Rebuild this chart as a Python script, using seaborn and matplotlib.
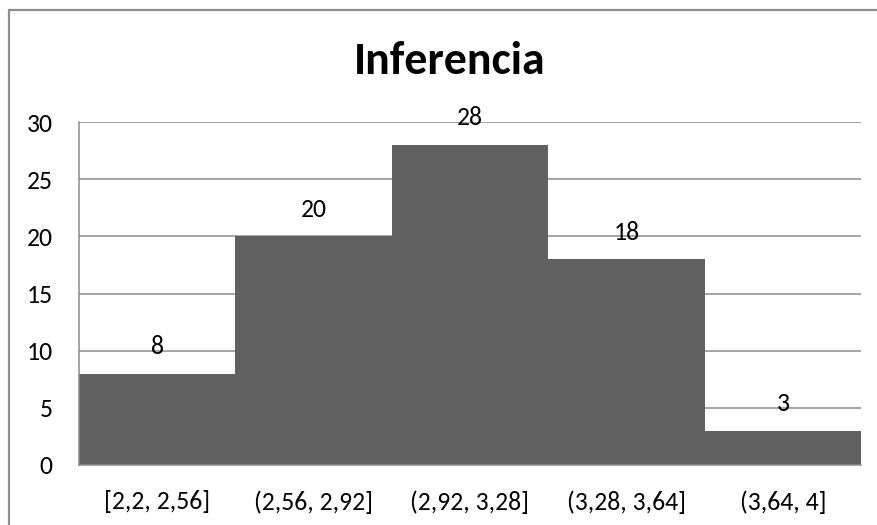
import matplotlib
matplotlib.use("Agg")
import matplotlib.pyplot as plt
from matplotlib import font_manager
from matplotlib.lines import Line2D
import seaborn as sns
import pandas as pd

# Class intervals and their frequencies
intervals = ["[2,2, 2,56]", "(2,56, 2,92]", "(2,92, 3,28]", "(3,28, 3,64]", "(3,64, 4]"]
frequencies = [8, 20, 28, 18, 3]
y_ticks = [0, 5, 10, 15, 20, 25, 30]

df = pd.DataFrame({"intervalo": intervals, "frecuencia": frequencies})

sns.set_theme(style="white")
available = {f.name for f in font_manager.fontManager.ttflist}
family = next((f for f in ["Carlito", "Lato", "DejaVu Sans"] if f in available), "DejaVu Sans")
plt.rcParams["font.family"] = [family, "DejaVu Sans"]

W, H, DPI = 877, 525, 100
fig = plt.figure(figsize=(W / DPI, H / DPI), dpi=DPI)
ax = fig.add_axes([79 / W, 1 - 465 / H, (861 - 79) / W, (465 - 122) / H])

bar_color = "#616161"
grid_color = "#8c8c8c"
label_size = 18.5

sns.barplot(data=df, x="intervalo", y="frecuencia", color=bar_color,
            saturation=1, width=1.0, linewidth=0, ax=ax)

ax.set_ylim(0, 30)
ax.set_xlim(-0.5, len(intervals) - 0.5)
ax.set_yticks(y_ticks)
ax.set_yticklabels([str(t) for t in y_ticks])
ax.set_xlabel("")
ax.set_ylabel("")
ax.set_axisbelow(True)
ax.yaxis.grid(True, color=grid_color, linewidth=1.1)
ax.xaxis.grid(False)

for side in ["top", "right"]:
    ax.spines[side].set_visible(False)
for side in ["left", "bottom"]:
    ax.spines[side].set_visible(True)
    ax.spines[side].set_color(grid_color)
    ax.spines[side].set_linewidth(1.1)

ax.tick_params(axis="y", length=0, pad=19, labelsize=label_size, labelcolor="black")
ax.tick_params(axis="x", length=0, pad=18, labelsize=label_size, labelcolor="black")

# Value labels above each bar
for i, v in enumerate(frequencies):
    ax.annotate(str(v), xy=(i, v), xytext=(0, 14), textcoords="offset points",
                ha="center", va="baseline", fontsize=label_size, color="black", zorder=5)

fig.text(450 / W, 1 - 74 / H, "Inferencia", ha="center", va="baseline",
         fontsize=33, fontweight="bold", color="black")

# Chart frame (left and top edges)
frame_kw = dict(transform=fig.transFigure, color="#8e8e8e", linewidth=1.6)
fig.add_artist(Line2D([9 / W, 9 / W], [0, 1 - 10 / H], **frame_kw))
fig.add_artist(Line2D([9 / W, 1], [1 - 10 / H, 1 - 10 / H], **frame_kw))

fig.savefig("out.png", dpi=DPI, facecolor="white")
